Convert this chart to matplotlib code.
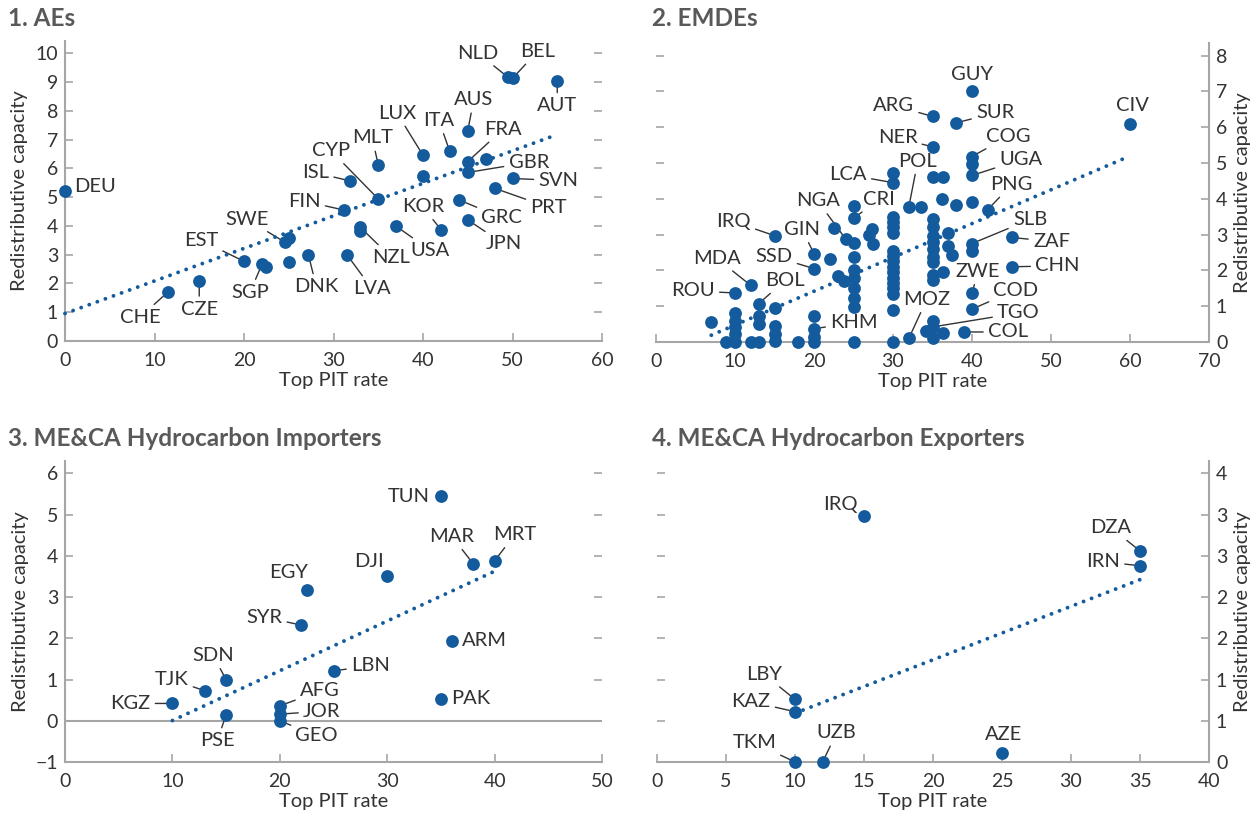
import numpy as np
import matplotlib
matplotlib.use("Agg")
import matplotlib.pyplot as plt

plt.rcParams['font.family'] = ['Lato', 'DejaVu Sans']

# ---------------------------------------------------------------- data
# 1. Advanced economies
ae_codes = ["DEU", "CHE", "CZE", "EST", "SGP", "", "SWE", "", "", "DNK", "LVA",
            "FIN", "ISL", "CYP", "MLT", "NZL", "", "USA", "KOR", "LUX", "", "ITA",
            "AUS", "FRA", "", "GBR", "SVN", "PRT", "GRC", "JPN", "NLD", "BEL", "AUT"]
ae_pit = [0, 11.5, 15, 20, 22, 22.5, 24.6, 25, 25, 27.2, 31.5,
          31.2, 31.8, 35, 35, 33, 33, 37, 42, 40, 40, 43,
          45, 45, 47, 45, 50, 48, 44, 45, 49.5, 50, 55]
ae_cap = [5.23, 1.70, 2.07, 2.77, 2.66, 2.59, 3.43, 3.57, 2.74, 2.99, 3.00,
          4.55, 5.57, 4.94, 6.12, 3.95, 3.81, 3.99, 3.87, 6.46, 5.75, 6.59,
          7.31, 6.24, 6.32, 5.86, 5.65, 5.31, 4.91, 4.21, 9.17, 9.13, 9.04]

# 2. Emerging market and developing economies
em_codes = ["IRQ", "MDA", "ROU", "BOL", "GIN", "SSD", "NGA", "CRI", "LCA", "POL",
            "NER", "ARG", "GUY", "SUR", "COG", "UGA", "PNG", "SLB", "ZAF", "CHN",
            "ZWE", "COD", "TGO", "COL", "MOZ", "KHM", "CIV"] + [""] * 76
em_pit = [15, 12, 10, 13, 20, 20, 24, 25, 30, 32,
          35, 35, 40, 38, 40, 40, 42, 40, 45, 45,
          40, 40, 35, 39, 32, 20, 60,
          7, 10, 10, 10, 10, 10, 8.8, 12, 13, 13, 13,
          15, 15, 15, 15, 18, 20, 20, 20,
          22, 22.5, 23, 23.8,
          25, 25, 25, 25, 25, 25, 25, 25, 25,
          27.4, 27, 27.5,
          30, 30, 30, 30, 30, 30, 30, 30, 30, 30, 30, 30, 30, 30, 30, 30,
          33.6,
          35, 35, 35, 35, 35, 35, 35, 35, 35, 35, 35, 34.2, 36.3, 35,
          36.3, 36.3, 36.2, 37, 37, 37.5, 38, 40, 40, 40]
em_cap = [2.97, 1.58, 1.37, 1.07, 2.47, 2.05, 2.88, 3.45, 4.45, 3.77,
          5.45, 6.30, 7.00, 6.12, 5.18, 4.65, 3.70, 2.75, 2.92, 2.10,
          1.36, 0.92, 0.42, 0.28, 0.10, 0.37, 6.08,
          0.56, 0.80, 0.60, 0.42, 0.22, 0.00, 0.00, 0.00, 0.74, 0.51, 0.00,
          0.96, 0.45, 0.23, 0.02, 0.00, 0.73, 0.15, 0.00,
          2.33, 3.18, 1.85, 1.70,
          3.80, 2.77, 2.37, 2.00, 1.80, 1.52, 1.22, 0.97, 0.00,
          3.15, 3.00, 2.73,
          4.73, 3.50, 3.35, 3.20, 3.05, 2.55, 2.40, 2.25, 2.10, 1.95, 1.80, 1.65, 1.50, 1.35, 0.90, 0.00,
          3.77,
          4.62, 3.43, 3.20, 2.95, 2.80, 2.60, 2.37, 2.23, 1.86, 1.72, 0.60, 0.30, 0.24, 0.10,
          4.62, 1.95, 3.98, 3.05, 2.69, 2.42, 3.83, 4.97, 3.90, 2.55]

# 3. ME&CA hydrocarbon importers
imp_codes = ["TUN", "MAR", "MRT", "DJI", "EGY", "SYR", "ARM", "LBN",
             "SDN", "TJK", "KGZ", "PSE", "AFG", "JOR", "GEO", "PAK"]
imp_pit = [35, 38, 40, 30, 22.5, 22, 36, 25, 15, 13, 10, 15, 20, 20, 20, 35]
imp_cap = [5.45, 3.81, 3.88, 3.50, 3.17, 2.32, 1.94, 1.21,
           1.00, 0.73, 0.42, 0.14, 0.36, 0.16, 0.00, 0.54]

# 4. ME&CA hydrocarbon exporters
exp_codes = ["IRQ", "DZA", "IRN", "LBY", "KAZ", "TKM", "UZB", "AZE"]
exp_pit = [15, 35, 35, 10, 10, 10, 12, 25]
exp_cap = [2.98, 2.56, 2.38, 0.76, 0.61, 0.00, 0.00, 0.11]
exp_ytick_labels = ["0", "1", "1", "2", "2", "3", "3", "4"]

titles = ["1. AEs", "2. EMDEs", "3. ME&CA Hydrocarbon Importers",
          "4. ME&CA Hydrocarbon Exporters"]
x_title = "Top PIT rate"
y_title = "Redistributive capacity"

# ---------------------------------------------------------------- label placement
# text-centre offsets from each marker in pixels (right, down), and leader flag
ae_lab = {"DEU": (30, -4, False), "CHE": (-28, 25, True), "CZE": (0, 28, True),
          "EST": (-43, -21, True), "SGP": (-12, 28, True), "SWE": (-38, -23, True),
          "DNK": (8, 32, True), "LVA": (25, 34, True), "FIN": (-40, -9, True),
          "ISL": (-34, -8, True), "CYP": (-47, -48, True), "MLT": (-6, -27, True),
          "NZL": (31, 30, True), "USA": (34, 24, True), "KOR": (-18, -23, True),
          "LUX": (-26, -42, True), "ITA": (-11, -31, True), "AUS": (6, -31, True),
          "FRA": (35, -32, True), "GBR": (61, -10, True), "SVN": (46, 2, True),
          "PRT": (54, 19, True), "GRC": (43, 18, True), "JPN": (36, 24, True),
          "NLD": (-30, -24, True), "BEL": (25, -27, True), "AUT": (0, 25, True)}
em_lab = {"GUY": (0, -17, False), "ARG": (-39, -11, True), "SUR": (39, -10, True),
          "CIV": (2, -19, False), "NER": (-35, -9, True), "COG": (36, -20, True),
          "UGA": (49, -16, True), "LCA": (-45, -8, True), "POL": (9, -46, True),
          "PNG": (24, -25, True), "NGA": (-28, -38, True), "CRI": (25, -19, True),
          "IRQ": (-41, -14, True), "GIN": (-12, -24, True), "SLB": (58, -24, True),
          "ZAF": (40, 4, True), "MDA": (-34, -27, True), "SSD": (-40, -12, True),
          "BOL": (26, -23, True), "CHN": (46, -1, True), "ZWE": (6, -22, True),
          "ROU": (-42, -2, True), "COD": (44, -19, True), "MOZ": (18, -39, True),
          "TGO": (86, -14, True), "KHM": (40, -6, True), "COL": (44, 0, True)}
imp_lab = {"TUN": (-32, 0, False), "MAR": (-21, -27, True), "MRT": (20, -26, True),
           "DJI": (-18, -15, False), "EGY": (-18, -18, False), "SYR": (-37, -8, True),
           "ARM": (33, 0, False), "LBN": (37, -5, True), "SDN": (-13, -24, True),
           "TJK": (-33, -11, True), "KGZ": (-42, 0, True), "PSE": (-9, 26, True),
           "AFG": (40, -15, True), "JOR": (42, -3, True), "GEO": (37, 15, True),
           "PAK": (30, 0, False)}
exp_lab = {"IRQ": (-24, -12, False), "DZA": (-29, -23, True), "IRN": (-37, -4, True),
           "LBY": (-31, -25, True), "KAZ": (-44, -10, True), "TKM": (-40, -19, True),
           "UZB": (14, -29, True), "AZE": (2, -18, False)}

# ---------------------------------------------------------------- style
BLUE = "#135B9C"
GREY = "#a6a6a6"
TXT = "#333333"
FS_TICK = 14
FS_LAB = 14.5
FS_AXIS = 14.5
FS_TITLE = 17.5

fig = plt.figure(figsize=(12.59, 8.17), dpi=100)

W, H = 1259, 817


def box(l, t, r, b):
    return [l / W, 1 - b / H, (r - l) / W, (b - t) / H]


def style_axis(ax, side):
    for s in ax.spines.values():
        s.set_visible(False)
    ax.spines['bottom'].set_visible(True)
    ax.spines[side].set_visible(True)
    for s in ('bottom', side):
        ax.spines[s].set_color(GREY)
        ax.spines[s].set_linewidth(1.5)
    ax.tick_params(axis='both', direction='in', length=6, width=1.2, color=GREY,
                   labelsize=FS_TICK, labelcolor=TXT)
    ax.tick_params(axis='y', left=True, right=True,
                   labelleft=(side == 'left'), labelright=(side == 'right'), pad=5)
    ax.tick_params(axis='x', pad=8)
    ax.set_xlabel(x_title, fontsize=FS_AXIS, color=TXT, labelpad=2)
    if side == 'right':
        ax.yaxis.set_label_position('right')
    ax.set_ylabel(y_title, fontsize=FS_AXIS, color=TXT, labelpad=5)


def draw(ax, codes, xs, ys, labels):
    xs = np.asarray(xs, float)
    ys = np.asarray(ys, float)
    ax.scatter(xs, ys, s=85, color=BLUE, linewidths=0, zorder=4, clip_on=False)
    coef = np.polyfit(xs, ys, 1)
    xx = np.array([xs.min(), xs.max()])
    ax.plot(xx, np.polyval(coef, xx), color=BLUE, lw=2.8,
            linestyle=(0, (0.01, 2.2)), dash_capstyle='round', zorder=3,
            clip_on=False)
    for code, x, y in zip(codes, xs, ys):
        if not code:
            continue
        dx, dy, lead = labels[code]
        props = None
        if lead:
            props = dict(arrowstyle='-', color=TXT, lw=1.0, shrinkA=1.5, shrinkB=0)
        ax.annotate(code, (x, y), xytext=(dx, -dy), textcoords='offset pixels',
                    ha='center', va='center', fontsize=FS_LAB, color=TXT,
                    arrowprops=props, annotation_clip=False, zorder=2)


# Panel 1
ax1 = fig.add_axes(box(65, 41, 602, 341))
style_axis(ax1, 'left')
ax1.set_xlim(0, 60)
ax1.set_ylim(0, 10.43)
ax1.set_xticks(np.arange(0, 61, 10))
ax1.set_yticks(np.arange(0, 11, 1))
draw(ax1, ae_codes, ae_pit, ae_cap, ae_lab)

# Panel 2
ax2 = fig.add_axes(box(656, 43, 1209, 342))
style_axis(ax2, 'right')
ax2.set_xlim(0, 70)
ax2.set_ylim(0, 8.35)
ax2.set_xticks(np.arange(0, 71, 10))
ax2.set_yticks(np.arange(0, 9, 1))
draw(ax2, em_codes, em_pit, em_cap, em_lab)

# Panel 3
ax3 = fig.add_axes(box(65, 461, 602, 762))
style_axis(ax3, 'left')
ax3.set_xlim(0, 50)
ax3.set_ylim(-1, 6.3)
ax3.set_xticks(np.arange(0, 51, 10))
ax3.set_yticks(np.arange(-1, 7, 1))
ax3.axhline(0, color=GREY, lw=1.5, zorder=1)
draw(ax3, imp_codes, imp_pit, imp_cap, imp_lab)

# Panel 4
ax4 = fig.add_axes(box(657, 461, 1209, 762))
style_axis(ax4, 'right')
ax4.set_xlim(0, 40)
ax4.set_ylim(0, 3.65)
ax4.set_xticks(np.arange(0, 41, 5))
ax4.set_yticks(np.arange(0, 3.51, 0.5))
ax4.set_yticklabels(exp_ytick_labels)
draw(ax4, exp_codes, exp_pit, exp_cap, exp_lab)

# Panel titles
for (px, py), t in zip([(8, 18), (652, 18), (8, 439), (652, 439)], titles):
    fig.text(px / W, 1 - py / H, t, fontsize=FS_TITLE, fontweight='bold',
             color="#595959", ha='left', va='center')

fig.savefig("out.png", dpi=100)
